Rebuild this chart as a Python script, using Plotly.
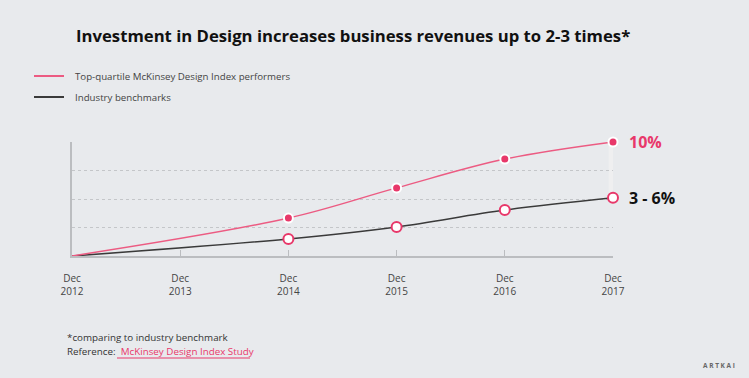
import plotly.graph_objects as go

# ---- data ----
year_labels = ["Dec<br>2012", "Dec<br>2013", "Dec<br>2014", "Dec<br>2015", "Dec<br>2016", "Dec<br>2017"]
top_quartile = [0, None, 1.33, 2.39, 3.40, 4.0]
industry = [0, None, 0.60, 1.02, 1.61, 2.04]
series_names = ["Top-quartile McKinsey Design Index performers", "Industry benchmarks"]
end_labels = ["10%", "3 - 6%"]
grid_vals = [1, 2, 3, 4]

PINK = "#e8386a"
PINK_LINE = "#ec5b82"
DARK = "#3a3a3a"
BG = "#e8eaed"
GRID = "#c4c6c9"
FONT = "Open Sans"

xs = list(range(len(year_labels)))

def pts(vals):
    return [x for x, v in zip(xs, vals) if v is not None], [v for v in vals if v is not None]

W, H = 749, 378
L, R, T, B = 72, 136, 142, 122
pw, ph = W - L - R, H - T - B

def px(x):
    return (x - L) / pw

def py(y):
    return (H - B - y) / ph

fig = go.Figure()

tx, ty = pts(top_quartile)
ix, iy = pts(industry)

# light band between end points
fig.add_shape(type="rect", xref="x", yref="y", x0=xs[-1] - 0.04, x1=xs[-1] + 0.04,
              y0=iy[-1], y1=ty[-1], fillcolor="#efeff0", line_width=0, layer="below")

fig.add_trace(go.Scatter(x=ix, y=iy, mode="lines", line=dict(color=DARK, width=1.5, shape="spline"),
                         name=series_names[1], showlegend=False, hoverinfo="skip", cliponaxis=False))
fig.add_trace(go.Scatter(x=tx, y=ty, mode="lines", line=dict(color=PINK_LINE, width=1.5, shape="spline"),
                         name=series_names[0], showlegend=False, hoverinfo="skip", cliponaxis=False))
fig.add_trace(go.Scatter(x=ix[1:], y=iy[1:], mode="markers",
                         marker=dict(size=10, color="white", line=dict(color=PINK, width=2)),
                         showlegend=False, cliponaxis=False))
fig.add_trace(go.Scatter(x=tx[1:], y=ty[1:], mode="markers",
                         marker=dict(size=9, color=PINK, line=dict(color="white", width=2)),
                         showlegend=False, cliponaxis=False))

# end labels
fig.add_annotation(x=tx[-1], y=ty[-1], xref="x", yref="y", text="<b>" + end_labels[0] + "</b>",
                   showarrow=False, xanchor="left", yanchor="middle", xshift=14,
                   font=dict(family=FONT, size=16, color=PINK))
fig.add_annotation(x=ix[-1], y=iy[-1], xref="x", yref="y", text="<b>" + end_labels[1] + "</b>",
                   showarrow=False, xanchor="left", yanchor="middle", xshift=14,
                   font=dict(family=FONT, size=16, color="#111"))

# title
fig.add_annotation(x=px(353), y=py(35), xref="paper", yref="paper",
                   text="<b>Investment in Design increases business revenues up to 2-3 times*</b>",
                   showarrow=False, xanchor="center", yanchor="middle",
                   font=dict(family=FONT, size=16.7, color="#111"))

# legend (manual)
leg_y = [76, 97]
leg_col = [PINK_LINE, DARK]
for name, yy, col in zip(series_names, leg_y, leg_col):
    fig.add_shape(type="line", xref="paper", yref="paper", x0=px(34), x1=px(64), y0=py(yy), y1=py(yy),
                  line=dict(color=col, width=2))
    fig.add_annotation(x=px(73), y=py(yy), xref="paper", yref="paper", text=name, showarrow=False,
                       xanchor="left", yanchor="middle", font=dict(family=FONT, size=9.7, color="#444"))

# footnote
fig.add_annotation(x=px(65), y=py(337), xref="paper", yref="paper", text="*comparing to industry benchmark",
                   showarrow=False, xanchor="left", yanchor="middle", font=dict(family=FONT, size=9.8, color="#333"))
fig.add_annotation(x=px(65), y=py(351), xref="paper", yref="paper",
                   text="Reference:  <span style='color:" + PINK + "'>McKinsey Design Index Study</span>",
                   showarrow=False, xanchor="left", yanchor="middle", font=dict(family=FONT, size=9.8, color="#333"))
fig.add_shape(type="line", xref="paper", yref="paper", x0=px(117), x1=px(250), y0=py(358), y1=py(358),
              line=dict(color=PINK, width=1.2))

fig.add_annotation(x=px(737), y=py(365), xref="paper", yref="paper", text="<b>A R T K A I</b>",
                   showarrow=False, xanchor="right", yanchor="middle", font=dict(family=FONT, size=6.5, color="#666"))

fig.update_layout(
    width=W, height=H,
    margin=dict(l=L, r=R, t=T, b=B),
    paper_bgcolor=BG, plot_bgcolor=BG,
    showlegend=False,
    xaxis=dict(range=[0, len(xs) - 1], tickvals=xs, ticktext=year_labels, showgrid=False, zeroline=False,
               showline=True, linecolor="#bbbdc0", linewidth=1.5, ticks="inside", ticklen=6, tickcolor="#bbbdc0",
               tickfont=dict(family=FONT, size=10, color="#444"), ticklabelstandoff=12, fixedrange=True),
    yaxis=dict(range=[0, 4], tickvals=grid_vals, showticklabels=False, showgrid=True, gridcolor=GRID,
               griddash="dot", gridwidth=1, zeroline=False, showline=True, linecolor="#bbbdc0", linewidth=1.5,
               fixedrange=True),
)

fig.write_html("out.html", config={"displayModeBar": False},
               post_script="document.body.style.margin='0';document.body.style.background='" + BG + "';")
